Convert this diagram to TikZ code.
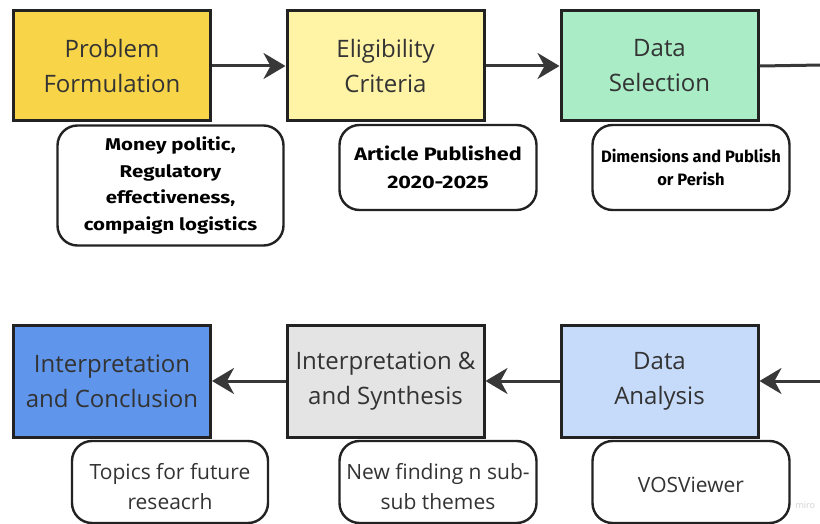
\documentclass[tikz,border=0pt]{standalone}
\usepackage{fontspec}
\setmainfont{Open Sans}
\newfontfamily\subfont[FakeStretch=1.2]{Fira Sans}
\newfontfamily\subfontn{Fira Sans}
\usetikzlibrary{arrows.meta}
\definecolor{cA}{HTML}{F8D548}
\definecolor{cB}{HTML}{FFF3A6}
\definecolor{cC}{HTML}{A9ECC6}
\definecolor{cD}{HTML}{5F96EC}
\definecolor{cE}{HTML}{E4E4E4}
\definecolor{cF}{HTML}{C6DBFA}
\definecolor{ink}{HTML}{333333}
\definecolor{edge}{HTML}{222222}
\tikzset{
  mainbox/.style={draw=edge, line width=3pt, minimum width=197pt, minimum height=110pt,
    align=center, text=ink, font=\fontsize{24}{35}\selectfont, inner sep=0pt},
  subbox/.style={draw=edge, line width=2.4pt, rounded corners=20pt, fill=white,
    align=center, text=black, inner sep=0pt},
  subtext/.style={align=center, text=ink, inner sep=0pt, font=\fontsize{21}{30}\selectfont},
  flow/.style={draw=edge!90, line width=3pt, -{Stealth[length=22pt,width=26pt,inset=7pt]}},
}
\begin{document}
\begin{tikzpicture}[x=1pt,y=-1pt]
\useasboundingbox (0,0) rectangle (820,524);
\clip (0,0) rectangle (820,524);
% top row
\node[mainbox, fill=cA] (pf) at (112,66) {Problem\\Formulation};
\node[mainbox, fill=cB] (ec) at (385.5,66) {Eligibility\\Criteria};
\node[mainbox, fill=cC] (ds) at (659.5,66) {Data\\Selection};
% bottom row
\node[mainbox, fill=cD, minimum height=112pt] (ic) at (112,381) {Interpretation\\and Conclusion};
\node[mainbox, fill=cE, minimum height=112pt] (is) at (385.5,381) {Interpretation \&\\and Synthesis};
\node[mainbox, fill=cF, minimum height=112pt] (da) at (659.5,381) {Data\\Analysis};
% sub boxes top
\node[subbox, minimum width=226pt, minimum height=120pt,
  font=\subfont\bfseries\fontsize{17}{26.5}\selectfont] (s1) at (170.5,185.5)
  {Money politic,\\Regulatory\\effectiveness,\\compaign logistics};
\node[subbox, minimum width=197pt, minimum height=85pt,
  font=\subfont\bfseries\fontsize{18}{28}\selectfont] (s2) at (438,167.5)
  {Article Published\\2020-2025};
\node[subbox, minimum width=197pt, minimum height=85pt,
  font=\subfontn\bfseries\fontsize{16.5}{23}\selectfont] (s3) at (691,167.5)
  {Dimensions and Publish\\or Perish};
% sub boxes bottom
\node[subbox, minimum width=196pt, minimum height=82pt] (s4) at (170,482) {};
\node[subbox, minimum width=197pt, minimum height=82pt] (s5) at (438,482) {};
\node[subbox, minimum width=197pt, minimum height=82pt] (s6) at (691,482) {};
\node[subtext] (t4) at (170,487) {Topics for future\\reseacrh};
\node[subtext] (t5) at (438,487) {New finding n sub-\\sub themes};
\node[subtext] (t6) at (691,485) {VOSViewer};
% connectors
\coordinate (outR) at (822,65);
\coordinate (inR) at (822,381);
\draw[flow] (pf.east) -- (ec.west);
\draw[flow] (ec.east) -- (ds.west);
\draw[draw=edge!90, line width=3pt] (ds.east) -- (outR);
\draw[flow] (inR) -- (da.east);
\draw[flow] (da.west) -- (is.east);
\draw[flow] (is.west) -- (ic.east);
\node[text=black!18, font=\fontsize{9}{9}\selectfont, anchor=west] (miro) at (792,505) {miro};
\end{tikzpicture}
\end{document}
